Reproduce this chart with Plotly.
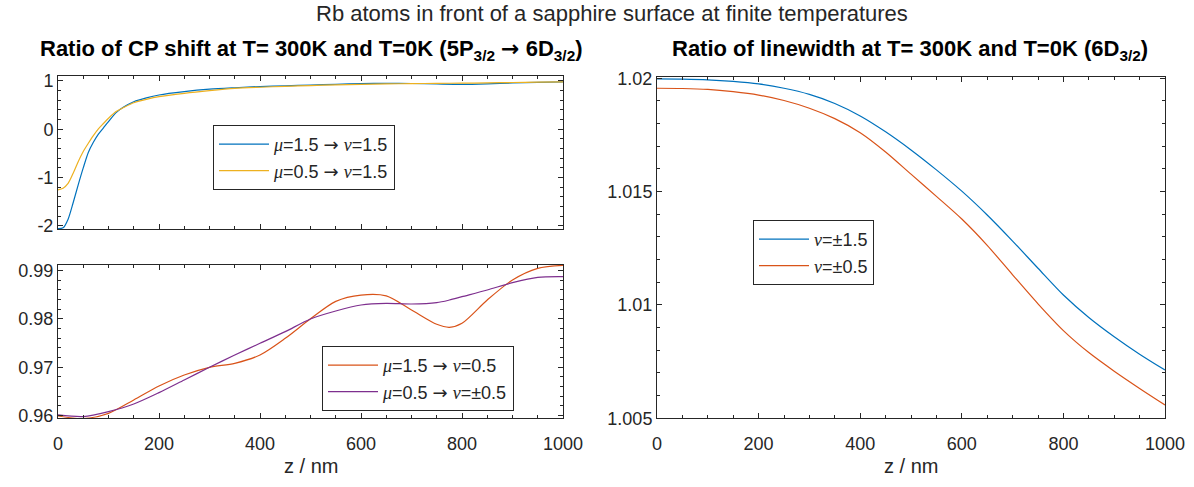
import plotly.graph_objects as go

# ---- data ---------------------------------------------------------------
# Top-left: CP shift ratio, 5P3/2 -> 6D3/2 (nu = 1.5)
z_top = [0, 10, 20, 30, 40, 50, 60, 70, 80, 90, 100, 115, 130, 150, 175, 200,
         250, 300, 350, 400, 450, 500, 550, 600, 650, 700, 750, 800, 850, 900,
         950, 1000]
cp_mu15_nu15 = [-2.055, -2.04, -1.86, -1.52, -1.15, -0.80, -0.48, -0.27, -0.10,
                0.03, 0.16, 0.345, 0.46, 0.57, 0.65, 0.71, 0.78, 0.83, 0.86,
                0.885, 0.90, 0.915, 0.93, 0.945, 0.95, 0.948, 0.937, 0.929,
                0.94, 0.958, 0.972, 0.98]
cp_mu05_nu15 = [-1.255, -1.22, -1.12, -0.91, -0.67, -0.46, -0.29, -0.13, 0.01,
                0.12, 0.228, 0.366, 0.45, 0.55, 0.62, 0.676, 0.745, 0.80, 0.845,
                0.87, 0.89, 0.905, 0.92, 0.93, 0.94, 0.945, 0.95, 0.955, 0.96,
                0.968, 0.975, 0.98]

# Bottom-left: CP shift ratio (nu = 0.5)
z_bot = [0, 50, 100, 150, 200, 250, 300, 350, 400, 450, 500, 550, 600,
         650, 700, 750, 775, 800, 850, 900, 950, 1000]
cp_mu15_nu05 = [0.95993, 0.95938, 0.96048, 0.96324, 0.96614, 0.96841, 0.97000,
                0.97083, 0.97255, 0.97600, 0.98005, 0.98365, 0.98495,
                0.98478, 0.98186, 0.97890, 0.97828, 0.97910, 0.98393, 0.98807,
                0.99048, 0.99110]
cp_mu05_nu05 = [0.96014, 0.95980, 0.96083, 0.96241, 0.96476, 0.96738, 0.97000,
                0.97255, 0.97497, 0.97738, 0.98000, 0.98165, 0.98290,
                0.98324, 0.98310, 0.98338, 0.98392, 0.98462, 0.98600, 0.98752,
                0.98862, 0.98876]

# Right: linewidth ratio of 6D3/2
z_grid = [0, 50, 100, 150, 200, 250, 300, 350, 400, 450, 500, 550, 600, 650,
          700, 750, 800, 850, 900, 950, 1000]
lw_nu15 = [1.01997, 1.01996, 1.01993, 1.01986, 1.01975, 1.01956, 1.01929,
           1.01889, 1.01834, 1.01764, 1.01684, 1.01596, 1.01502, 1.01397,
           1.01282, 1.01162, 1.01044, 1.00945, 1.00860, 1.00783, 1.00713]
lw_nu05 = [1.01956, 1.01955, 1.01951, 1.01941, 1.01926, 1.01902, 1.01868,
           1.01822, 1.01760, 1.01675, 1.01577, 1.01479, 1.01379, 1.01263,
           1.01133, 1.01005, 1.00887, 1.00790, 1.00708, 1.00632, 1.00559]

x_ticks = [0, 200, 400, 600, 800, 1000]
x_ticktext = ["0", "200", "400", "600", "800", "1000"]
top_yticks = [-2, -1, 0, 1]
top_yticktext = ["-2", "-1", "0", "1"]
bot_yticks = [0.96, 0.97, 0.98, 0.99]
bot_yticktext = ["0.96", "0.97", "0.98", "0.99"]
right_yticks = [1.005, 1.01, 1.015, 1.02]
right_yticktext = ["1.005", "1.01", "1.015", "1.02"]

# ---- styling ------------------------------------------------------------
W, H = 1194, 487
FONT = "Liberation Sans, Arial, sans-serif"
INK = "#262626"
C_BLUE = "#0072BD"
C_ORANGE = "#D95319"
C_YELLOW = "#EDB120"
C_PURPLE = "#7E2F8E"

L0, L1 = 58, 563      # left column, pixel extent
R0, R1 = 657, 1165    # right column, pixel extent

# TeX-like pieces for legend / title text
ARROW = '<span style="font-family:DejaVu Sans">→</span>'
MU = '<span style="font-family:Liberation Serif"><i>μ</i></span>'
NU = '<span style="font-family:Liberation Serif"><i>ν</i></span>'


def xdom(a, b):
    return [a / W, b / W]


def ydom(top, bottom):
    return [1 - bottom / H, 1 - top / H]


fig = go.Figure()


def line(x, y, name, color, xa, ya, legend):
    fig.add_trace(go.Scatter(
        x=x, y=y, name=name, mode="lines", xaxis=xa, yaxis=ya, legend=legend,
        line=dict(color=color, width=1.2, shape="spline", smoothing=0.8)))


line(z_top, cp_mu15_nu15, f"{MU}=1.5 {ARROW} {NU}=1.5", C_BLUE, "x", "y", "legend")
line(z_top, cp_mu05_nu15, f"{MU}=0.5 {ARROW} {NU}=1.5", C_YELLOW, "x", "y", "legend")
line(z_bot, cp_mu15_nu05, f"{MU}=1.5 {ARROW} {NU}=0.5", C_ORANGE, "x2", "y2", "legend2")
line(z_bot, cp_mu05_nu05, f"{MU}=0.5 {ARROW} {NU}=±0.5", C_PURPLE, "x2", "y2", "legend2")
line(z_grid, lw_nu15, f"{NU}=±1.5", C_BLUE, "x3", "y3", "legend3")
line(z_grid, lw_nu05, f"{NU}=±0.5", C_ORANGE, "x3", "y3", "legend3")

tick_font = dict(family=FONT, size=18, color=INK)


def axis_common(minor_dtick):
    return dict(
        automargin=False,
        showline=True, linecolor=INK, linewidth=1, mirror="allticks",
        ticks="inside", ticklen=5, tickcolor=INK, tickwidth=1,
        showgrid=False, zeroline=False, tickfont=tick_font,
        minor=dict(ticks="inside", ticklen=3, tickcolor=INK, tickwidth=1,
                   dtick=minor_dtick, showgrid=False),
    )


def xaxis(domain, anchor, labels):
    d = axis_common(50)
    d.update(domain=domain, anchor=anchor, range=[0, 1000],
             tickvals=x_ticks, ticktext=x_ticktext, showticklabels=labels,
             ticklabelstandoff=9)
    return d


def yaxis(domain, anchor, rng, vals, text, minor_dtick, minor_tick0):
    d = axis_common(minor_dtick)
    d["minor"]["tick0"] = minor_tick0
    d.update(domain=domain, anchor=anchor, range=rng, tickvals=vals, ticktext=text)
    return d


legend_style = dict(bgcolor="white", bordercolor=INK, borderwidth=1,
                    font=dict(family=FONT, size=18, color=INK),
                    xanchor="left", yanchor="top", itemwidth=50,
                    tracegroupgap=0)

fig.update_layout(
    width=W, height=H,
    margin=dict(l=0, r=0, t=0, b=0, autoexpand=False),
    paper_bgcolor="white", plot_bgcolor="white",
    font=dict(family=FONT, color=INK),
    xaxis=xaxis(xdom(L0, L1), "y", False),
    yaxis=yaxis(ydom(76, 229.3), "x", [-2.07, 1.103], top_yticks, top_yticktext, 0.2, 0),
    xaxis2=xaxis(xdom(L0, L1), "y2", True),
    yaxis2=yaxis(ydom(265, 418.3), "x2", [0.95945, 0.99117], bot_yticks, bot_yticktext, 0.002, 0.96),
    xaxis3=xaxis(xdom(R0, R1), "y3", True),
    yaxis3=yaxis(ydom(76.7, 418.3), "x3", [1.005, 1.02007], right_yticks, right_yticktext, 0.001, 1.005),
    legend=dict(x=213 / W, y=1 - 125 / H, **legend_style),
    legend2=dict(x=322 / W, y=1 - 346 / H, **legend_style),
    legend3=dict(x=753 / W, y=1 - 220 / H, **legend_style),
    showlegend=True,
)


def label(text, xc, yc, size, color, bold=False):
    fig.add_annotation(
        text=f"<b>{text}</b>" if bold else text,
        x=xc / W, y=1 - yc / H, xref="paper", yref="paper", showarrow=False,
        xanchor="center", yanchor="middle",
        font=dict(family=FONT, size=size, color=color))


label("Rb atoms in front of a sapphire surface at finite temperatures",
      612, 14, 22, INK)
label(f"Ratio of CP shift at T= 300K and T=0K (5P<sub>3/2</sub> {ARROW} 6D<sub>3/2</sub>)",
      311, 50, 22, "black", bold=True)
label("Ratio of linewidth at T= 300K and T=0K (6D<sub>3/2</sub>)",
      910, 50, 22, "black", bold=True)
label("z / nm", (L0 + L1) / 2, 466, 20, INK)
label("z / nm", (R0 + R1) / 2, 466, 20, INK)

fig.write_html("out.html")
